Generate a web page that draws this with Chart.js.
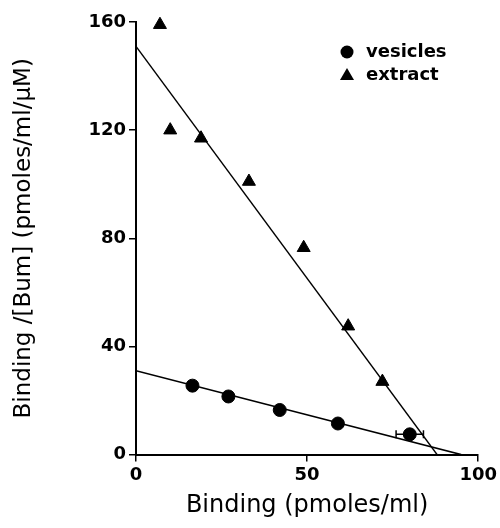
<!DOCTYPE html>
<html>
<head>
<meta charset="utf-8">
<script src="https://cdn.jsdelivr.net/npm/chart.js@4.4.1/dist/chart.umd.min.js"></script>
<style>
  html, body { margin: 0; padding: 0; background: #fff; }
  #wrap { width: 500px; height: 528px; }
</style>
</head>
<body>
<div id="wrap"><canvas id="myChart"></canvas></div>
<script>
// values
var vesX = [16.5, 27, 42, 59, 80];
var vesY = [25.5, 21.5, 16.5, 11.5, 7.5];
var vesErr = [0, 0, 0, 0, 4]; // horizontal error, only the last point has one
var extX = [7, 10, 19, 33, 49, 62, 72];
var extY = [159, 120, 117, 101, 76.5, 47.5, 27];
// fitted lines (ends)
var vesFitX = [0, 95];
var vesFitY = [31, 0];
var extFitX = [0, 88];
var extFitY = [151, 0];
var xTicks = [0, 50, 100];
var yTicks = [0, 40, 80, 120, 160];

function pts(xs, ys) {
  return xs.map(function (x, i) { return { x: x, y: ys[i] }; });
}

var font = "'DejaVu Sans', Verdana, sans-serif";

// error bar on vesicles + legend in the corner
var extras = {
  id: "extras",
  afterDatasetsDraw: function (chart) {
    var c = chart.ctx, xs = chart.scales.x, ys = chart.scales.y;
    c.save();
    c.strokeStyle = "#000";
    c.lineWidth = 1.5;
    vesX.forEach(function (x, i) {
      if (!vesErr[i]) return;
      var py = ys.getPixelForValue(vesY[i]);
      var a = xs.getPixelForValue(x - vesErr[i]);
      var b = xs.getPixelForValue(x + vesErr[i]);
      c.beginPath();
      c.moveTo(a, py); c.lineTo(b, py);
      c.moveTo(a, py - 4); c.lineTo(a, py + 4);
      c.moveTo(b, py - 4); c.lineTo(b, py + 4);
      c.stroke();
    });
    // legend
    var lx = 347, ly = 52;
    c.fillStyle = "#000";
    c.beginPath();
    c.arc(lx, ly, 6.5, 0, Math.PI * 2);
    c.fill();
    c.beginPath();
    c.moveTo(lx, ly + 16);
    c.lineTo(lx + 7, ly + 28);
    c.lineTo(lx - 7, ly + 28);
    c.closePath();
    c.fill();
    c.font = "bold 18px " + font;
    c.textBaseline = "middle";
    c.fillText(chart.data.datasets[0].label, 366, ly);
    c.fillText(chart.data.datasets[1].label, 366, ly + 23);
    c.restore();
  }
};

var ctx = document.getElementById("myChart");
var myChart = new Chart(ctx, {
  type: "scatter",
  data: {
    datasets: [
      {
        label: "vesicles",
        data: pts(vesX, vesY),
        pointStyle: "circle",
        pointRadius: 6.5,
        backgroundColor: "#000",
        borderColor: "#000",
        clip: false
      },
      {
        label: "extract",
        data: pts(extX, extY),
        pointStyle: "triangle",
        pointRadius: 7.5,
        backgroundColor: "#000",
        borderColor: "#000",
        clip: false
      },
      {
        label: "vesicles fit",
        data: pts(vesFitX, vesFitY),
        showLine: true,
        pointRadius: 0,
        borderColor: "#000",
        borderWidth: 1.5
      },
      {
        label: "extract fit",
        data: pts(extFitX, extFitY),
        showLine: true,
        pointRadius: 0,
        borderColor: "#000",
        borderWidth: 1.5
      }
    ]
  },
  options: {
    responsive: true,
    maintainAspectRatio: false,
    animation: false,
    layout: { padding: { top: 22, right: 18, left: 10, bottom: 0 } },
    plugins: {
      legend: { display: false },
      tooltip: { enabled: false }
    },
    scales: {
      x: {
        type: "linear",
        min: 0,
        max: 100,
        afterBuildTicks: function (s) { s.ticks = xTicks.map(function (v) { return { value: v }; }); },
        border: { display: true, color: "#000", width: 2 },
        grid: { drawOnChartArea: false, drawTicks: true, tickLength: 7, color: "#000", lineWidth: 1.5 },
        ticks: { color: "#000", font: { family: font, size: 18, weight: "bold" }, padding: 3, maxRotation: 0 },
        title: {
          display: true,
          text: "Binding (pmoles/ml)",
          color: "#000",
          font: { family: font, size: 24 },
          padding: { top: 2, bottom: 8 }
        }
      },
      y: {
        type: "linear",
        min: 0,
        max: 160,
        afterBuildTicks: function (s) { s.ticks = yTicks.map(function (v) { return { value: v }; }); },
        afterFit: function (s) { s.width = 126; },
        border: { display: true, color: "#000", width: 2 },
        grid: { drawOnChartArea: false, drawTicks: true, tickLength: 7, color: "#000", lineWidth: 1.5 },
        ticks: { color: "#000", font: { family: font, size: 18, weight: "bold" }, padding: 3 },
        title: {
          display: true,
          text: "Binding /[Bum] (pmoles/ml/\u03bcM)",
          color: "#000",
          font: { family: font, size: 23 },
          padding: { top: 0, bottom: 0 }
        }
      }
    }
  },
  plugins: [extras]
});
</script>
</body>
</html>
